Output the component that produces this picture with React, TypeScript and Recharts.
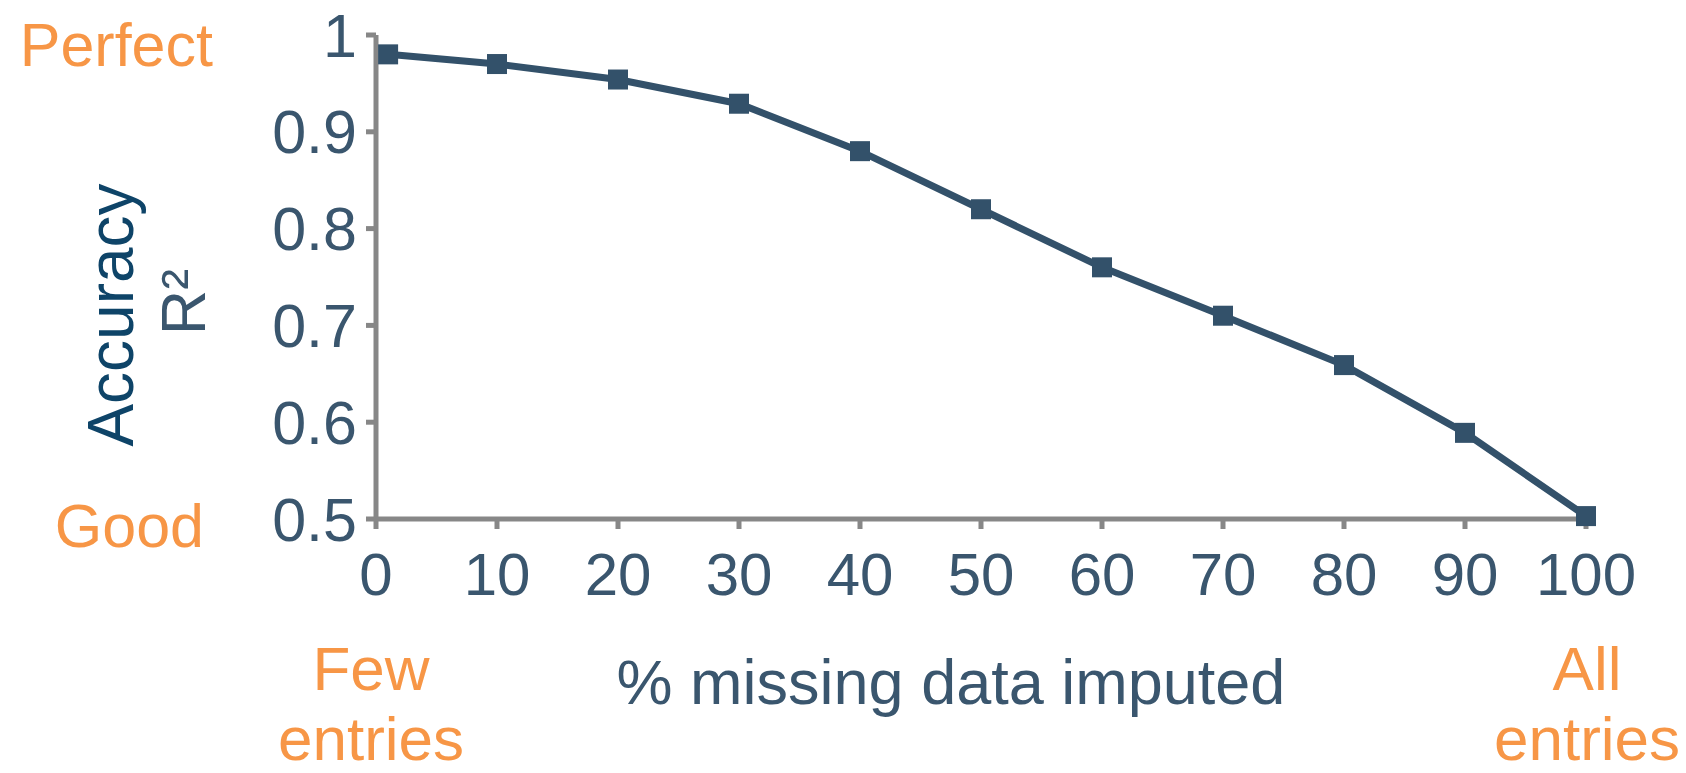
import React from "react";
import { LineChart, Line, XAxis, YAxis } from "recharts";

const xValues = [1, 10, 20, 30, 40, 50, 60, 70, 80, 90, 100];
const r2Values = [0.98, 0.97, 0.954, 0.929, 0.88, 0.82, 0.76, 0.71, 0.659, 0.589, 0.503];
const xTicks = [0, 10, 20, 30, 40, 50, 60, 70, 80, 90, 100];
const yTicks = [0.5, 0.6, 0.7, 0.8, 0.9, 1];
const yEndLabels: Record<string, string> = { "1": "Perfect", "0.5": "Good" };
const xTitle = "% missing data imputed";
const yTitle = "Accuracy";
const yUnit = "R²";
const xLeftNote = ["Few", "entries"];
const xRightNote = ["All", "entries"];

const data = xValues.map((x, i) => ({ x, r2: r2Values[i] }));

const FONT = "'Liberation Sans', Arial, Helvetica, sans-serif";
const NAVY = "#33516A";
const TEXT = "#3A566E";
const ORANGE = "#F79646";
const DARK = "#0E4468";
const GRAY = "#878787";

const YTick = (props: any) => {
  const { x, y, payload } = props;
  const key = String(payload.value);
  const end = yEndLabels[key];
  return (
    <g>
      <text x={x} y={y} dy="0.355em" textAnchor="end" fill={TEXT} fontSize={61} fontFamily={FONT}>
        {key}
      </text>
      {end && (
        <text
          x={key === "1" ? x - 144 : x - 153}
          y={y + (key === "1" ? 31 : 28)}
          textAnchor="end"
          fill={ORANGE}
          fontSize={61}
          fontFamily={FONT}
        >
          {end}
        </text>
      )}
    </g>
  );
};

const XLabel = (props: any) => {
  const vb = props.viewBox || {};
  const x0 = vb.x;
  const y0 = vb.y;
  const w = vb.width;
  return (
    <g>
      <text x={x0 + 575} y={y0 + 185} textAnchor="middle" fill={TEXT} fontSize={63} fontFamily={FONT}>
        {xTitle}
      </text>
      {xLeftNote.map((t, i) => (
        <text key={"l" + i} x={x0 - 5} y={y0 + 171 + i * 70} textAnchor="middle" fill={ORANGE} fontSize={62} fontFamily={FONT}>
          {t}
        </text>
      ))}
      {xRightNote.map((t, i) => (
        <text key={"r" + i} x={x0 + w + 1} y={y0 + 171 + i * 70} textAnchor="middle" fill={ORANGE} fontSize={62} fontFamily={FONT}>
          {t}
        </text>
      ))}
    </g>
  );
};

const YLabel = (props: any) => {
  const vb = props.viewBox || {};
  const right = vb.x + vb.width;
  const top = vb.y;
  const ax = right - 243;
  const ay = top + 280;
  const rx = right - 171;
  const ry = top + 267;
  return (
    <g>
      <text x={ax} y={ay} transform={`rotate(-90 ${ax} ${ay})`} textAnchor="middle" fill={DARK} fontSize={64} fontFamily={FONT}>
        {yTitle}
      </text>
      <text x={rx} y={ry} transform={`rotate(-90 ${rx} ${ry})`} textAnchor="middle" fill={TEXT} fontSize={63} fontFamily={FONT}>
        {yUnit}
      </text>
    </g>
  );
};

const SquareDot = (props: any) => {
  const { cx, cy, index } = props;
  if (cx == null || cy == null) return <g key={"d" + index} />;
  return <rect key={"d" + index} x={cx - 10} y={cy - 10} width={20} height={20} fill={NAVY} />;
};

export default function App() {
  return (
    <div style={{ position: "absolute", left: 0, top: 0, background: "#fff" }}>
      <LineChart width={1686} height={773} data={data} margin={{ top: 35, right: 100, left: 296, bottom: 0 }}>
        <XAxis
          dataKey="x"
          type="number"
          domain={[0, 100]}
          ticks={xTicks}
          interval={0}
          height={254}
          tickSize={10}
          tickMargin={23}
          axisLine={{ stroke: GRAY, strokeWidth: 5 }}
          tickLine={{ stroke: GRAY, strokeWidth: 5 }}
          tick={{ fill: TEXT, fontSize: 60, fontFamily: FONT }}
          label={{ content: XLabel }}
        />
        <YAxis
          type="number"
          domain={[0.5, 1]}
          ticks={yTicks}
          interval={0}
          width={80}
          tickSize={10}
          tickMargin={9}
          axisLine={{ stroke: GRAY, strokeWidth: 5 }}
          tickLine={{ stroke: GRAY, strokeWidth: 5 }}
          tick={<YTick />}
          label={{ content: YLabel }}
        />
        <Line
          dataKey="r2"
          type="linear"
          stroke={NAVY}
          strokeWidth={7}
          dot={<SquareDot />}
          activeDot={false}
          isAnimationActive={false}
        />
      </LineChart>
    </div>
  );
}
